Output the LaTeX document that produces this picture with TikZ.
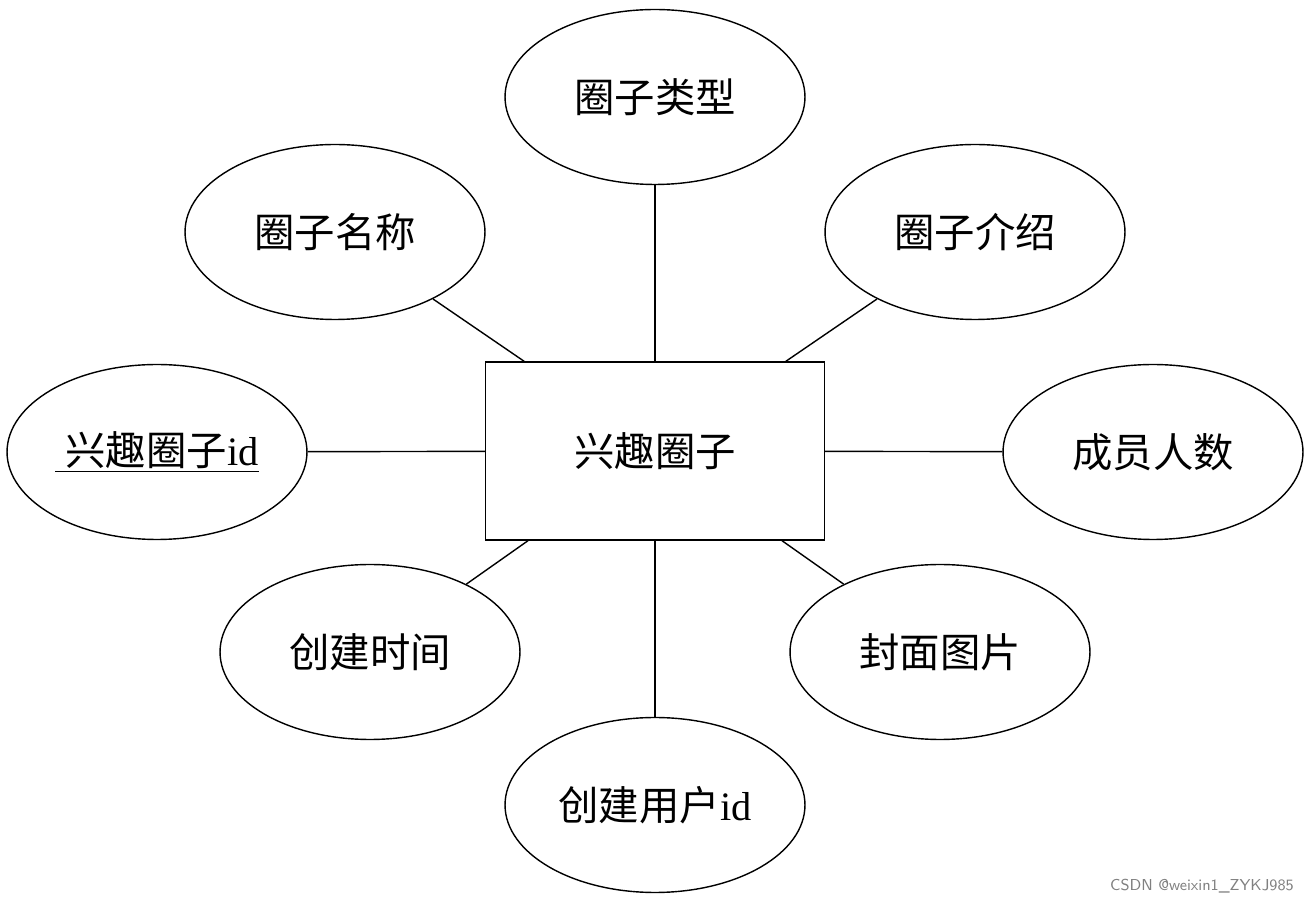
\documentclass[tikz,border=0pt]{standalone}
\usepackage{fontspec}
\setmainfont{Liberation Serif}
\newfontfamily\cjk{Noto Sans CJK SC}
\usetikzlibrary{shapes.geometric}
\begin{document}
\begin{tikzpicture}[x=0.02cm,y=-0.02cm,
    attr/.style={draw,thick,ellipse,minimum width=6cm,minimum height=3.5cm,inner sep=0pt,font=\fontsize{23}{26}\selectfont},
    entity/.style={draw,thick,minimum width=6.78cm,minimum height=3.56cm,font=\fontsize{23}{26}\selectfont}]
    \useasboundingbox (0,0) rectangle (1309,901);
    % entity
    \node[entity] (circle) at (655,451) {\cjk 兴趣圈子};
    % attributes
    \node[attr] (type) at (655,97) {\cjk 圈子类型};
    \node[attr] (name) at (335,232) {\cjk 圈子名称};
    \node[attr] (intro) at (975,232) {\cjk 圈子介绍};
    \node[attr] (id) at (157,452) {\underline{\ {\cjk 兴趣圈子}id}};
    \node[attr] (members) at (1153,452) {\cjk 成员人数};
    \node[attr] (created) at (370,652) {\cjk 创建时间};
    \node[attr] (cover) at (940,652) {\cjk 封面图片};
    \node[attr] (creator) at (655,805) {{\cjk 创建用户}id};
    % links
    \foreach \a in {type,name,intro,id,members,created,cover,creator}
        \draw[thick] (\a) -- (circle);
    \node[gray,font=\fontsize{9}{10}\selectfont\sffamily,anchor=east] (mark) at (1300,886) {CSDN @weixin1\_ZYKJ985};
\end{tikzpicture}
\end{document}
